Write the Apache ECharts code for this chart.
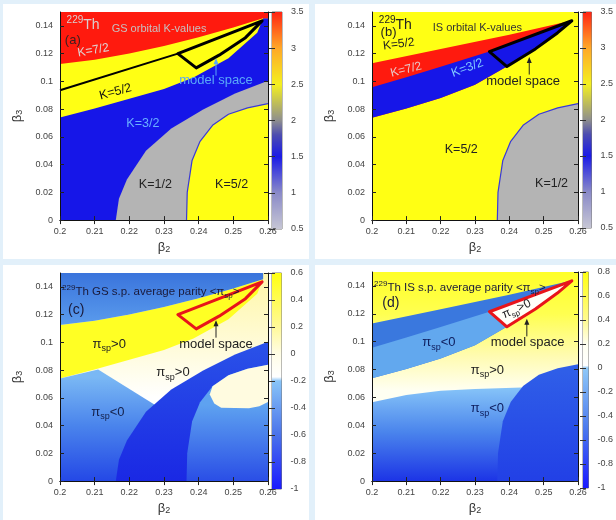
<!DOCTYPE html>
<html>
<head>
<meta charset="utf-8">
<script src="https://cdn.jsdelivr.net/npm/echarts@6/dist/echarts.min.js"></script>
<style>
  body { margin: 0; background: #e2f0fa; }
  #page { position: relative; width: 616px; height: 520px; background: #e2f0fa; overflow: hidden; }
  .card { position: absolute; background: #fff; }
</style>
</head>
<body>
<div id="page">
  <div class="card" id="pa" style="left:3px;top:4px;width:306px;height:255px"></div>
  <div class="card" id="pb" style="left:315px;top:4px;width:301px;height:255px"></div>
  <div class="card" id="pc" style="left:3px;top:265px;width:306px;height:255px"></div>
  <div class="card" id="pd" style="left:315px;top:265px;width:301px;height:255px"></div>
</div>
<script>
// axes (beta2 horizontal, beta3 vertical)
const b2Min = 0.2, b2Max = 0.26, b2Step = 0.01;
const b3Min = 0, b3Max = 0.15, b3Step = 0.02;

// colour bars
const kBarValues = [0.5, 1.0, 1.5, 1.8, 2.0, 2.5, 3.0, 3.5];
const kBarColors = ['#c6c6d4', '#8a8ac8', '#1a1ae6', '#4c4cb0', '#8e8e8e', '#f4f020', '#ffa828', '#ff2414'];
const gsParityValues = [-1, -0.6, -0.2, -0.17, 0, 0.2, 0.6];
const gsParityColors = ['#1a1aff', '#4a72ea', '#88c4f8', '#ffffff', '#fffde6', '#fff99a', '#ffff10'];
const isParityValues = [-1, -0.5, 0, 0.02, 0.2, 0.4, 0.8];
const isParityColors = ['#1a1aff', '#4c7aee', '#8ec8f8', '#ffffff', '#fffff0', '#fffa90', '#ffff10'];

// contours, [beta2, beta3]
// ground state (GS)
const gsRedEdge = [[0.2, 0.1125], [0.21, 0.1155], [0.22, 0.12], [0.23, 0.1255], [0.24, 0.1318], [0.25, 0.1388], [0.2586, 0.1455]];
const gsYellowEdge = [[0.2, 0.074], [0.21, 0.0805], [0.22, 0.0875], [0.23, 0.0945], [0.2385, 0.1028], [0.2486, 0.1166], [0.2569, 0.135], [0.2586, 0.1455]];
const gsGreyEdge = [[0.2161, 0], [0.217, 0.0154], [0.2193, 0.0292], [0.2248, 0.0499], [0.2321, 0.066], [0.2413, 0.0798], [0.2505, 0.0913], [0.26, 0.1005]];
const gsBlackLine = [[0.2, 0.0936], [0.234, 0.12]];
const gsModel = [[0.234, 0.12], [0.2583, 0.1436], [0.2535, 0.1315], [0.2459, 0.1189], [0.2393, 0.1097]];
const gsNegPeak = [[0.2, 0.074], [0.211, 0.0805], [0.2293, 0.0519], [0.2293, 0]];
const gsCreamBump = [[0.244, 0.0683], [0.2486, 0.0763], [0.2541, 0.0809], [0.26, 0.0839], [0.26, 0.057], [0.2575, 0.054], [0.2545, 0.0525], [0.2465, 0.0528], [0.2445, 0.056], [0.2432, 0.0625]];
// isomer state (IS)
const isTopEdge = [[0.2, 0.113], [0.22, 0.1233], [0.24, 0.1336], [0.2586, 0.1441]];
const isMidEdge = [[0.2, 0.0957], [0.21, 0.103], [0.22, 0.1105], [0.2342, 0.1215]];
const isLowEdge = [[0.2, 0.0738], [0.21, 0.0805], [0.22, 0.088], [0.23, 0.0975], [0.2393, 0.1107]];
const isModel = [[0.2342, 0.1215], [0.2582, 0.1437], [0.254, 0.1349], [0.2476, 0.1234], [0.2393, 0.1107]];
const isNegEdge = [[0.2, 0.0565], [0.21, 0.0618], [0.22, 0.0648], [0.23, 0.066], [0.2435, 0.0672], [0.26, 0.0672]];
// K = 5/2 (GS) / K = 1/2 (IS) quarter at lower right
const quarterEdge = [[0.2365, 0], [0.2367, 0.02], [0.2381, 0.043], [0.2404, 0.0568], [0.244, 0.0683], [0.2486, 0.0763], [0.2541, 0.0809], [0.26, 0.0839]];

const FONT = '"Liberation Sans", Arial, sans-serif';
const fullRect = [[b2Min, b3Min], [b2Max, b3Min], [b2Max, b3Max], [b2Min, b3Max]];
const toCorner = [[b2Max, 0]];
const rev = a => a.slice().reverse();
const isLowFull = isLowEdge.concat([isModel[3], isModel[2], isModel[1]]);

function richFor(size, color) {
  return {
    m: { fontSize: size, fill: color, lineHeight: size + 5, fontFamily: FONT },
    sub: { fontSize: Math.round(size * 0.7), fill: color, lineHeight: Math.round(size * 0.7), verticalAlign: 'bottom', fontFamily: FONT },
    sup: { fontSize: Math.round(size * 0.7), fill: color, lineHeight: Math.round(size * 0.7), verticalAlign: 'top', fontFamily: FONT }
  };
}

function regionItem(L, api) {
  const pts = L.pts.map(p => api.coord(p));
  let fill = L.fill || null;
  if (L.grad) {
    const lo = L.grad[0][0], hi = L.grad[L.grad.length - 1][0];
    const y0 = api.coord([b2Min, lo])[1], y1 = api.coord([b2Min, hi])[1];
    fill = new echarts.graphic.LinearGradient(0, y0, 0, y1,
      L.grad.map(g => ({ offset: (g[0] - lo) / (hi - lo), color: g[1] })), true);
  }
  return {
    type: L.open ? 'polyline' : 'polygon',
    shape: { points: pts },
    style: { fill: L.open ? null : fill, stroke: L.stroke || null, lineWidth: L.width || 0, lineJoin: 'round' }
  };
}

function noteItem(n, api) {
  if (n.arrow) {
    const a = api.coord([n.arrow[0], n.arrow[1]]), b = api.coord([n.arrow[0], n.arrow[2]]);
    return {
      type: 'group', children: [
        { type: 'line', shape: { x1: a[0], y1: a[1], x2: b[0], y2: b[1] + 4 }, style: { stroke: n.color, lineWidth: 1 } },
        { type: 'polygon', shape: { points: [[b[0], b[1]], [b[0] - 2.5, b[1] + 6], [b[0] + 2.5, b[1] + 6]] }, style: { fill: n.color } }
      ]
    };
  }
  const c = api.coord(n.at);
  return {
    type: 'text', x: c[0], y: c[1], rotation: (n.rot || 0) * Math.PI / 180,
    style: {
      text: n.text, fill: n.color, fontSize: n.size, fontFamily: FONT,
      align: n.align || 'center', verticalAlign: 'middle', rich: richFor(n.size, n.color)
    }
  };
}

function panelOption(p) {
  const tick = { show: true, inside: true, length: 4, lineStyle: { color: '#222', width: 1 } };
  const line = { show: true, lineStyle: { color: '#111', width: 1 } };
  const lbl = { color: '#444', fontSize: 9, fontFamily: FONT };
  const axisName = { rich: { b: { fontSize: 13, color: '#333', fontFamily: FONT }, s: { fontSize: 9, color: '#333', verticalAlign: 'bottom', lineHeight: 9, fontFamily: FONT } } };
  const barStops = p.barValues.map((v, i) => ({ offset: (v - p.barValues[0]) / (p.barValues[p.barValues.length - 1] - p.barValues[0]), color: p.barColors[i] }));
  const barMin = p.barValues[0], barMax = p.barValues[p.barValues.length - 1];
  return {
    animation: false,
    grid: [
      { left: p.plot[0], top: p.plot[1], width: p.plot[2], height: p.plot[3] },
      { left: p.bar[0], top: p.plot[1], width: p.bar[1], height: p.plot[3], show: true, borderColor: '#777', borderWidth: 1 }
    ],
    xAxis: [
      { type: 'value', gridIndex: 0, min: b2Min, max: b2Max, interval: b2Step, position: 'bottom', z: 5,
        axisLine: line, axisTick: tick, splitLine: { show: false }, axisLabel: Object.assign({ margin: 7 }, lbl),
        name: '{b|β}{s|2}', nameLocation: 'middle', nameGap: 19, nameTextStyle: axisName },
      { type: 'value', gridIndex: 0, min: b2Min, max: b2Max, interval: b2Step, position: 'top', z: 5,
        axisLine: line, axisTick: tick, splitLine: { show: false }, axisLabel: { show: false } },
      { type: 'value', gridIndex: 1, min: 0, max: 1, show: false }
    ],
    yAxis: [
      { type: 'value', gridIndex: 0, min: b3Min, max: b3Max, interval: b3Step, position: 'left', z: 5,
        axisLine: line, axisTick: tick, splitLine: { show: false }, axisLabel: Object.assign({ margin: 7, showMaxLabel: false }, lbl),
        name: '{b|β}{s|3}', nameLocation: 'middle', nameGap: 36, nameRotate: 90, nameTextStyle: axisName },
      { type: 'value', gridIndex: 0, min: b3Min, max: b3Max, interval: b3Step, position: 'right', z: 5,
        axisLine: line, axisTick: tick, splitLine: { show: false }, axisLabel: { show: false } },
      { type: 'value', gridIndex: 1, min: barMin, max: barMax, interval: p.barStep, position: 'right', z: 5,
        axisLine: { show: false }, axisTick: { show: true, inside: true, length: 3, lineStyle: { color: '#333' } },
        splitLine: { show: false }, axisLabel: Object.assign({ margin: 9 }, lbl) },
      { type: 'value', gridIndex: 1, min: barMin, max: barMax, interval: p.barStep, position: 'left', z: 5,
        axisLine: { show: false }, axisTick: { show: true, inside: true, length: 3, lineStyle: { color: '#333' } },
        splitLine: { show: false }, axisLabel: { show: false } }
    ],
    series: [
      { type: 'custom', xAxisIndex: 0, yAxisIndex: 0, z: 2, silent: true,
        data: p.layers.map((l, i) => [i]),
        renderItem: (params, api) => regionItem(p.layers[params.dataIndex], api) },
      { type: 'custom', xAxisIndex: 0, yAxisIndex: 0, z: 3, silent: true,
        data: p.notes.map((n, i) => [i]),
        renderItem: (params, api) => noteItem(p.notes[params.dataIndex], api) },
      { type: 'custom', xAxisIndex: 2, yAxisIndex: 2, z: 2, silent: true,
        data: [[0]],
        renderItem: (params, api) => {
          const a = api.coord([0, barMax]), b = api.coord([1, barMin]);
          return { type: 'rect', shape: { x: a[0], y: a[1], width: b[0] - a[0], height: b[1] - a[1] },
            style: { fill: new echarts.graphic.LinearGradient(0, 1, 0, 0, barStops) } };
        } }
    ]
  };
}

const RED = '#ff1a0e', YEL = '#ffff14', BLUE = '#1616e8', GREY = '#b4b4b4';

const panels = {
  pa: {
    plot: [47, 8, 218, 217], bar: [269, 10], barValues: kBarValues, barColors: kBarColors, barStep: 0.5,
    layers: [
      { pts: fullRect, fill: BLUE },
      { pts: gsYellowEdge.concat([[0.26, 0.1455], [0.26, 0.15], [0.2, 0.15]]), fill: YEL },
      { pts: gsRedEdge.concat([[0.26, 0.1455], [0.26, 0.15], [0.2, 0.15]]), fill: RED },
      { pts: gsGreyEdge.concat(toCorner), fill: GREY },
      { pts: quarterEdge.concat(toCorner), fill: YEL },
      { pts: quarterEdge, open: true, stroke: '#3a3ad8', width: 1.2 },
      { pts: gsBlackLine, open: true, stroke: '#000', width: 2 },
      { pts: gsModel, fill: 'none', stroke: '#000', width: 3 }
    ],
    notes: [
      { at: [0.2019, 0.1405], text: '{sup|229}{m|Th}', color: '#d8d0d0', size: 14, align: 'left' },
      { at: [0.2149, 0.138], text: '{m|GS orbital K-values}', color: '#c8c0c0', size: 11, align: 'left' },
      { at: [0.2014, 0.1292], text: '{m|(a)}', color: '#3a2020', size: 13, align: 'left' },
      { at: [0.2096, 0.1223], text: '{m|K=7/2}', color: '#e0d0d0', size: 12, rot: 10 },
      { at: [0.216, 0.0924], text: '{m|K=5/2}', color: '#111', size: 12.5, rot: 15 },
      { at: [0.245, 0.1005], text: '{m|model space}', color: '#5aa8f8', size: 13 },
      { arrow: [0.245, 0.1041, 0.1166], color: '#5aa8f8' },
      { at: [0.2239, 0.0694], text: '{m|K=3/2}', color: '#6ab0ff', size: 12.5 },
      { at: [0.2275, 0.0257], text: '{m|K=1/2}', color: '#222', size: 12.5 },
      { at: [0.2495, 0.0257], text: '{m|K=5/2}', color: '#222', size: 12.5 }
    ]
  },
  pb: {
    plot: [46, 8, 217, 216], bar: [268, 11], barValues: kBarValues, barColors: kBarColors, barStep: 0.5,
    layers: [
      { pts: fullRect, fill: YEL },
      { pts: isTopEdge.concat(rev(isLowFull)), fill: RED },
      { pts: isMidEdge.concat([isModel[1]], rev(isLowFull)), fill: BLUE },
      { pts: quarterEdge.concat(toCorner), fill: GREY },
      { pts: quarterEdge, open: true, stroke: '#3a3ad8', width: 1.2 },
      { pts: isModel, fill: 'none', stroke: '#000', width: 3 }
    ],
    notes: [
      { at: [0.202, 0.1405], text: '{sup|229}{m|Th}', color: '#222', size: 14, align: 'left' },
      { at: [0.2177, 0.1384], text: '{m|IS orbital K-values}', color: '#333', size: 11, align: 'left' },
      { at: [0.2025, 0.135], text: '{m|(b)}', color: '#222', size: 13, align: 'left' },
      { at: [0.2078, 0.1268], text: '{m|K=5/2}', color: '#222', size: 12, rot: 7 },
      { at: [0.2099, 0.1084], text: '{m|K=7/2}', color: '#e8c8c8', size: 12, rot: 14 },
      { at: [0.2278, 0.1096], text: '{m|K=3/2}', color: '#80c8ff', size: 12.5, rot: 20 },
      { at: [0.244, 0.1003], text: '{m|model space}', color: '#222', size: 13 },
      { arrow: [0.2458, 0.1049, 0.1176], color: '#222' },
      { at: [0.226, 0.0507], text: '{m|K=5/2}', color: '#222', size: 12.5 },
      { at: [0.2523, 0.0265], text: '{m|K=1/2}', color: '#222', size: 12.5 }
    ]
  },
  pc: {
    plot: [47, 8, 218, 216], bar: [269, 10], barValues: gsParityValues, barColors: gsParityColors, barStep: 0.2,
    layers: [
      { pts: fullRect, grad: [[0.06, '#ffffff'], [0.09, '#fffce0'], [0.14, '#fff7b0']] },
      { pts: gsYellowEdge.concat(rev(gsRedEdge)), fill: '#ffff24' },
      { pts: gsRedEdge.concat([[0.2586, 0.15], [0.2, 0.15]]), grad: [[0.11, '#5c9eee'], [0.15, '#3a74dc']] },
      { pts: gsNegPeak.concat([[0.2, 0]]), grad: [[0, '#2448e6'], [0.04, '#4a84ec'], [0.075, '#7ab8f4']] },
      { pts: gsGreyEdge.concat(toCorner), grad: [[0, '#1a28e4'], [0.1, '#2a52e8']] },
      { pts: quarterEdge.concat(toCorner), grad: [[0, '#2a4ee6'], [0.055, '#5ea2f0']] },
      { pts: gsCreamBump, fill: '#fffbe0' },
      { pts: gsModel, fill: 'none', stroke: '#e8141a', width: 3 }
    ],
    notes: [
      { at: [0.2006, 0.1366], text: '{sup|229}{m|Th GS s.p. average parity <π}{sub|sp}{m|>}', color: '#1a1a3a', size: 11.5, align: 'left' },
      { at: [0.2023, 0.1229], text: '{m|(c)}', color: '#1a1a3a', size: 14, align: 'left' },
      { at: [0.2142, 0.0988], text: '{m|π}{sub|sp}{m|>0}', color: '#222', size: 13 },
      { at: [0.245, 0.0988], text: '{m|model space}', color: '#222', size: 13 },
      { arrow: [0.245, 0.1034, 0.116], color: '#222' },
      { at: [0.2326, 0.0782], text: '{m|π}{sub|sp}{m|>0}', color: '#222', size: 13 },
      { at: [0.2138, 0.0496], text: '{m|π}{sub|sp}{m|<0}', color: '#14204a', size: 13 }
    ]
  },
  pd: {
    plot: [46, 7, 217, 216], bar: [268, 10], barValues: isParityValues, barColors: isParityColors, barStep: 0.2,
    layers: [
      { pts: fullRect, grad: [[0.065, '#fffff2'], [0.09, '#fffbb0'], [0.12, '#ffff50'], [0.15, '#ffff28']] },
      { pts: isTopEdge.concat(rev(isLowFull)), fill: '#3a78de' },
      { pts: isMidEdge.concat([isModel[1]], rev(isLowFull)), fill: '#62a8ee' },
      { pts: isModel, fill: '#fffff8', stroke: '#e8141a', width: 3 },
      { pts: isNegEdge.concat([[0.26, 0], [0.2, 0]]), grad: [[0, '#1c34e6'], [0.035, '#4a84ec'], [0.067, '#86c4f8']] },
      { pts: quarterEdge.concat(toCorner), grad: [[0, '#2240e6'], [0.084, '#3060e8']] }
    ],
    notes: [
      { at: [0.2006, 0.1386], text: '{sup|229}{m|Th IS s.p. average parity <π}{sub|sp}{m|>}', color: '#1a1a3a', size: 11.5, align: 'left' },
      { at: [0.203, 0.128], text: '{m|(d)}', color: '#1a1a3a', size: 14, align: 'left' },
      { at: [0.2195, 0.0992], text: '{m|π}{sub|sp}{m|<0}', color: '#102060', size: 13 },
      { at: [0.2421, 0.1234], text: '{m|π}{sub|sp}{m|>0}', color: '#222', size: 12, rot: 25 },
      { at: [0.2453, 0.0992], text: '{m|model space}', color: '#222', size: 13 },
      { arrow: [0.2451, 0.1038, 0.1165], color: '#222' },
      { at: [0.2336, 0.0796], text: '{m|π}{sub|sp}{m|>0}', color: '#222', size: 13 },
      { at: [0.2336, 0.0519], text: '{m|π}{sub|sp}{m|<0}', color: '#102060', size: 13 }
    ]
  }
};

Object.keys(panels).forEach(id => {
  const chart = echarts.init(document.getElementById(id), null, { renderer: 'canvas' });
  chart.setOption(panelOption(panels[id]));
});
</script>
</body>
</html>
